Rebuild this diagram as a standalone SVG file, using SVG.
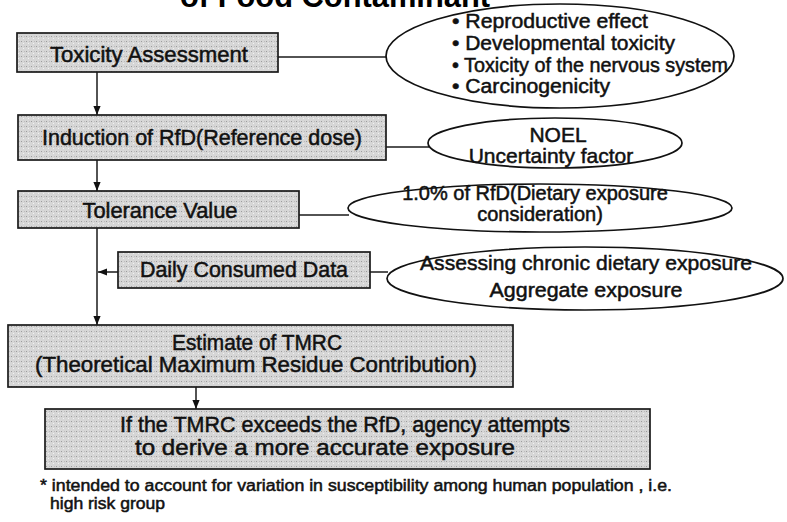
<svg xmlns="http://www.w3.org/2000/svg" width="787" height="522" viewBox="0 0 787 522">
<style>
.box{fill:url(#speckle);stroke:#1a1a1a;stroke-width:1.7}
.ell{fill:#fff;stroke:#111;stroke-width:1.7}
.t{font-family:"Liberation Sans",Arial,sans-serif;fill:#111;stroke:#111;stroke-width:0.5}
.bt{font-size:21.5px;text-anchor:middle}
.et{font-size:21px;text-anchor:middle}
.lt{font-size:20px}
.fn{font-size:16px}
.title{font-family:"Liberation Sans",Arial,sans-serif;font-weight:bold;font-size:31px;fill:#000}
.c{stroke:#1a1a1a;stroke-width:1.5;fill:none}
</style>
<defs>
<pattern id="speckle" width="5" height="5" patternUnits="userSpaceOnUse">
<rect width="5" height="5" fill="#d6d6d6"/>
<rect x="1" y="1" width="1" height="1" fill="#9c9c9c"/>
<rect x="3" y="3" width="1" height="1" fill="#f2f2f2"/>
<rect x="4" y="1" width="1" height="1" fill="#bcbcbc"/>
</pattern>
<marker id="arr" viewBox="0 0 10 10" refX="10" refY="5" markerWidth="9" markerHeight="9" markerUnits="userSpaceOnUse" orient="auto">
<path d="M0,1 L10,5 L0,9 z" fill="#111"/>
</marker>
</defs>
<rect width="787" height="522" fill="#fff"/>
<text class="title" x="335" y="7" text-anchor="middle" textLength="310" lengthAdjust="spacingAndGlyphs">of Food Contaminant</text>
<g id="connectors">
<line class="c" x1="97" y1="72" x2="97" y2="115" marker-end="url(#arr)"/>
<line class="c" x1="97" y1="160" x2="97" y2="191" marker-end="url(#arr)"/>
<line class="c" x1="97" y1="228" x2="97" y2="325" marker-end="url(#arr)"/>
<line class="c" x1="118" y1="272" x2="98" y2="272" marker-end="url(#arr)"/>
<line class="c" x1="196" y1="387" x2="196" y2="409" marker-end="url(#arr)"/>
<line class="c" x1="278" y1="57" x2="386" y2="57"/>
<line class="c" x1="386" y1="147" x2="429" y2="147"/>
<line class="c" x1="299" y1="215" x2="349" y2="215"/>
<line class="c" x1="370" y1="272" x2="388" y2="272"/>
</g>
<g id="toxicity">
<rect class="box" x="17" y="33" width="261" height="39"/>
<text class="t bt" x="149" y="62" textLength="198" lengthAdjust="spacingAndGlyphs">Toxicity Assessment</text>
</g>
<g id="effects">
<ellipse class="ell" cx="560" cy="56" rx="174" ry="52"/>
<text class="t lt" x="452" y="28" textLength="196" lengthAdjust="spacingAndGlyphs">• Reproductive effect</text>
<text class="t lt" x="452" y="50" textLength="223" lengthAdjust="spacingAndGlyphs">• Developmental toxicity</text>
<text class="t lt" x="452" y="72" textLength="276" lengthAdjust="spacingAndGlyphs">• Toxicity of the nervous system</text>
<text class="t lt" x="452" y="93" textLength="158" lengthAdjust="spacingAndGlyphs">• Carcinogenicity</text>
</g>
<g id="rfd">
<rect class="box" x="18" y="115" width="368" height="45"/>
<text class="t bt" x="202" y="145" textLength="320" lengthAdjust="spacingAndGlyphs">Induction of RfD(Reference dose)</text>
</g>
<g id="noel">
<ellipse class="ell" cx="555" cy="143" rx="127" ry="25"/>
<text class="t et" x="558" y="142">NOEL</text>
<text class="t et" x="551" y="163">Uncertainty factor</text>
</g>
<g id="tolerance">
<rect class="box" x="18" y="191" width="281" height="37"/>
<text class="t bt" x="160" y="218" textLength="155" lengthAdjust="spacingAndGlyphs">Tolerance Value</text>
</g>
<g id="dietary">
<ellipse class="ell" cx="540" cy="208" rx="192" ry="24"/>
<text class="t et" x="535" y="200" style="font-size:20px">1.0% of RfD(Dietary exposure</text>
<text class="t et" x="540" y="221" style="font-size:20px">consideration)</text>
</g>
<g id="daily">
<rect class="box" x="118" y="252" width="252" height="36"/>
<text class="t bt" x="244" y="277" textLength="208" lengthAdjust="spacingAndGlyphs">Daily Consumed Data</text>
</g>
<g id="chronic">
<ellipse class="ell" cx="585" cy="278.5" rx="198" ry="31.5"/>
<text class="t et" x="586" y="270" textLength="332" lengthAdjust="spacingAndGlyphs">Assessing chronic dietary exposure</text>
<text class="t et" x="586" y="297" textLength="193" lengthAdjust="spacingAndGlyphs">Aggregate exposure</text>
</g>
<g id="tmrc">
<rect class="box" x="8" y="325" width="505" height="62"/>
<text class="t bt" x="257" y="350" textLength="170" lengthAdjust="spacingAndGlyphs">Estimate of TMRC</text>
<text class="t bt" x="256" y="372" textLength="442" lengthAdjust="spacingAndGlyphs">(Theoretical Maximum Residue Contribution)</text>
</g>
<g id="exceeds">
<rect class="box" x="45" y="409" width="605" height="60"/>
<text class="t bt" x="345" y="432" textLength="450" lengthAdjust="spacingAndGlyphs">If the TMRC exceeds the RfD, agency attempts</text>
<text class="t bt" x="325" y="455" textLength="380" lengthAdjust="spacingAndGlyphs">to derive a more accurate exposure</text>
</g>
<g id="footnote">
<text class="t fn" x="40" y="491" textLength="632" lengthAdjust="spacingAndGlyphs">* intended to account for variation in susceptibility among human population , i.e.</text>
<text class="t fn" x="50" y="509" textLength="115" lengthAdjust="spacingAndGlyphs">high risk group</text>
</g>
</svg>
